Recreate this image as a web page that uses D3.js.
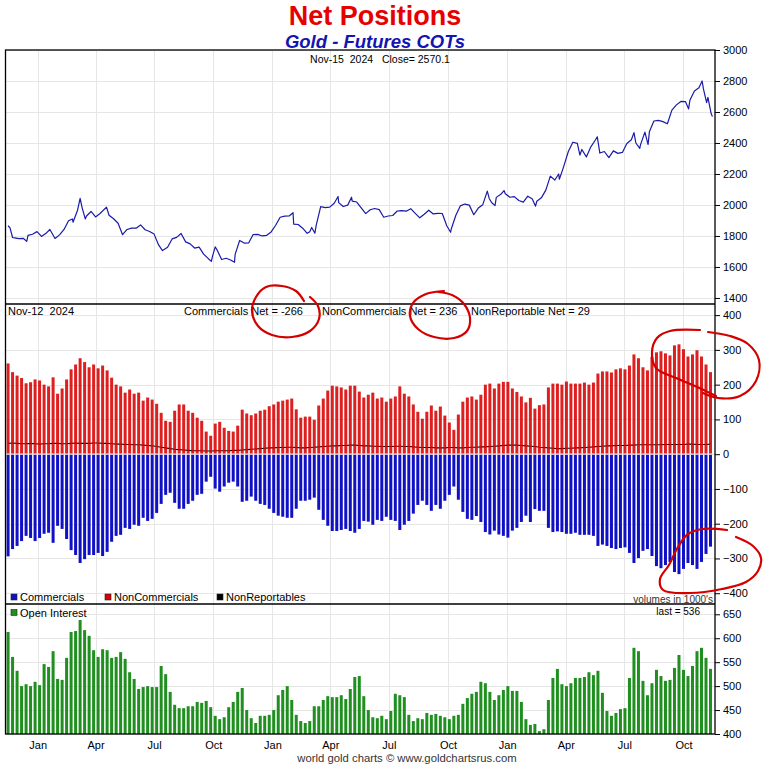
<!DOCTYPE html>
<html><head><meta charset="utf-8">
<script src="https://cdn.jsdelivr.net/npm/d3@7"></script>
<style>
html,body{margin:0;padding:0;background:#fff;}
svg{display:block;font-family:"Liberation Sans",Arial,Helvetica,sans-serif;}
text{white-space:pre;}
</style></head><body>
<svg id="c" width="763" height="768"></svg>
<script>
// ---------------- DATA ----------------
const goldClose = [
["2021-11-16",1866],["2021-11-19",1852],["2021-11-23",1790],["2021-11-26",1788],["2021-12-03",1783],["2021-12-10",1784],["2021-12-15",1765],["2021-12-17",1804],["2021-12-24",1811],["2021-12-31",1828],
["2022-01-07",1797],["2022-01-14",1817],["2022-01-20",1842],["2022-01-28",1784],["2022-02-04",1807],["2022-02-11",1842],["2022-02-18",1898],["2022-02-24",1910],["2022-02-25",1889],["2022-03-04",1966],
["2022-03-08",2043],["2022-03-11",1985],["2022-03-16",1910],["2022-03-18",1929],["2022-03-25",1958],["2022-04-01",1923],["2022-04-08",1945],["2022-04-18",1986],["2022-04-22",1934],["2022-04-29",1911],
["2022-05-06",1882],["2022-05-13",1808],["2022-05-20",1842],["2022-05-27",1851],["2022-06-03",1850],["2022-06-10",1871],["2022-06-17",1840],["2022-06-24",1829],["2022-07-01",1812],["2022-07-08",1742],
["2022-07-14",1706],["2022-07-22",1727],["2022-07-29",1781],["2022-08-05",1791],["2022-08-12",1816],["2022-08-19",1762],["2022-08-26",1749],["2022-09-02",1722],["2022-09-09",1728],["2022-09-16",1683],
["2022-09-23",1655],["2022-09-28",1636],["2022-09-30",1672],["2022-10-04",1730],["2022-10-07",1709],["2022-10-14",1648],["2022-10-21",1656],["2022-10-28",1645],["2022-11-03",1630],["2022-11-04",1681],
["2022-11-11",1771],["2022-11-18",1754],["2022-11-25",1755],["2022-12-02",1809],["2022-12-09",1810],["2022-12-16",1800],["2022-12-23",1804],["2022-12-30",1826],
["2023-01-06",1869],["2023-01-13",1921],["2023-01-20",1928],["2023-01-27",1929],["2023-02-02",1950],["2023-02-03",1877],["2023-02-10",1874],["2023-02-17",1850],["2023-02-24",1817],["2023-02-28",1828],
["2023-03-03",1855],["2023-03-08",1818],["2023-03-10",1868],["2023-03-17",1989],["2023-03-24",1983],["2023-03-31",1986],["2023-04-07",2011],["2023-04-13",2055],["2023-04-14",2015],["2023-04-21",1990],
["2023-04-28",1999],["2023-05-04",2050],["2023-05-05",2025],["2023-05-12",2019],["2023-05-19",1981],["2023-05-26",1944],["2023-06-02",1969],["2023-06-09",1977],["2023-06-16",1970],["2023-06-23",1921],
["2023-06-30",1929],["2023-07-07",1932],["2023-07-14",1961],["2023-07-21",1964],["2023-07-28",1960],["2023-08-04",1976],["2023-08-11",1946],["2023-08-18",1917],["2023-08-25",1940],["2023-09-01",1966],
["2023-09-08",1942],["2023-09-15",1946],["2023-09-22",1945],["2023-09-29",1866],["2023-10-05",1824],["2023-10-06",1845],["2023-10-13",1932],["2023-10-20",1994],["2023-10-27",2006],["2023-11-03",1999],
["2023-11-10",1937],["2023-11-17",1980],["2023-11-24",2002],["2023-12-01",2089],["2023-12-04",2042],["2023-12-08",2014],["2023-12-13",1996],["2023-12-15",2049],["2023-12-22",2069],["2023-12-27",2093],
["2023-12-29",2072],["2024-01-05",2050],["2024-01-12",2054],["2024-01-19",2029],["2024-01-26",2018],["2024-02-02",2057],["2024-02-09",2039],["2024-02-14",1992],["2024-02-16",2024],["2024-02-23",2046],
["2024-03-01",2096],["2024-03-08",2186],["2024-03-15",2161],["2024-03-21",2200],["2024-03-22",2166],["2024-03-28",2238],["2024-04-05",2345],["2024-04-12",2405],["2024-04-19",2398],["2024-04-23",2322],
["2024-04-26",2358],["2024-05-03",2310],["2024-05-10",2375],["2024-05-17",2419],["2024-05-20",2440],["2024-05-24",2335],["2024-05-31",2345],["2024-06-07",2306],["2024-06-14",2349],["2024-06-21",2333],
["2024-06-28",2339],["2024-07-05",2397],["2024-07-12",2421],["2024-07-16",2467],["2024-07-19",2400],["2024-07-25",2365],["2024-07-26",2386],["2024-08-02",2470],["2024-08-07",2390],["2024-08-09",2472],
["2024-08-16",2542],["2024-08-23",2546],["2024-08-30",2538],["2024-09-06",2524],["2024-09-13",2612],["2024-09-20",2646],["2024-09-27",2668],["2024-10-04",2667],["2024-10-09",2620],["2024-10-11",2676],
["2024-10-18",2736],["2024-10-25",2756],["2024-10-30",2800],["2024-11-01",2749],["2024-11-06",2660],["2024-11-08",2694],["2024-11-13",2590],["2024-11-15",2570.1]
];

// weekly COT report dates run Tuesday 2021-11-16 .. Tuesday 2024-11-12
const cotFirst = "2021-11-16", cotLast = "2024-11-12";

const nonCommercials = [
261,236,226,219,204,207,215,212,200,195, 221,174,189,215,244,258,276,265,250,258,
247,255,241,220,200,195,177,186,174,177, 154,163,157,145,119,96,93,125,143,143,
125,119,105,96,65,53,88,93,76,67, 65,82,128,117,112,117,125,128,138,143,
151,154,157,160,129,105,108,108,99,140, 160,183,197,195,192,186,197,197,180,163,
171,177,160,163,151,160,166,195,174,166, 143,122,102,122,140,125,137,111,91,70,
114,151,163,166,157,171,200,203,189,203, 208,208,189,179,166,149,162,131,141,143,
192,203,203,200,209,203,203,203,206,200, 206,232,238,238,235,244,247,244,255,287,
276,250,241,280,293,296,290,284,313,316, 302,281,287,299,281,258,236
];
const commercials = [
-294,-273,-264,-250,-235,-241,-250,-241,-229,-226, -255,-206,-215,-244,-276,-290,-313,-302,-290,-290,
-284,-293,-281,-252,-235,-232,-212,-215,-203,-206, -183,-192,-186,-169,-143,-117,-111,-140,-157,-157,
-143,-134,-117,-114,-79,-65,-99,-108,-93,-82, -79,-93,-137,-134,-122,-134,-143,-146,-157,-169,
-177,-180,-183,-183,-157,-134,-134,-131,-125,-160, -189,-206,-221,-221,-218,-215,-221,-226,-215,-192,
-194,-203,-189,-192,-180,-189,-192,-218,-203,-192, -171,-146,-134,-146,-163,-146,-157,-134,-117,-93,
-131,-166,-186,-189,-178,-195,-224,-231,-220,-231, -235,-240,-220,-212,-195,-177,-195,-158,-163,-163,
-212,-224,-222,-224,-229,-229,-226,-232,-232,-232, -235,-264,-260,-264,-270,-273,-270,-268,-284,-313,
-299,-278,-273,-293,-322,-328,-319,-310,-339,-345, -330,-313,-319,-330,-310,-287,-266
];
const nonReportables = [
31,32,31,30,30,31,30,29,30,30, 31,31,30,30,31,32,31,31,31,32,
32,31,31,30,29,29,28,28,27,27, 26,25,24,22,20,18,16,14,13,12,
11,10,10,10,9,9,10,10,10,10, 11,11,12,13,14,15,16,17,18,18,
19,19,20,20,19,18,18,19,20,21, 22,23,24,24,25,25,26,26,25,24,
24,23,23,22,22,22,23,23,22,22, 21,20,19,19,19,18,18,18,19,19,
18,18,19,20,20,21,21,22,23,24, 25,26,26,26,25,24,23,22,20,19,
18,17,16,16,17,17,18,18,19,20, 21,22,23,24,24,25,25,25,26,26,
27,27,27,27,27,27,28,28,28,28, 28,29,29,28,28,28,29
];
const openInterest = [
613,561,532,500,504,500,509,502,546,540, 573,515,513,559,613,615,638,617,605,575,
561,577,575,559,561,571,557,529,515,494, 498,500,498,498,542,525,488,461,454,454,
458,458,467,465,469,456,438,431,435,456, 467,488,496,450,433,423,438,438,440,450,
481,492,500,471,440,427,423,427,458,458, 471,479,477,477,481,473,494,519,521,479,
450,435,433,438,431,448,484,481,477,440, 427,433,431,444,440,442,438,435,431,438,
440,463,475,484,488,509,506,488,471,481, 492,500,490,490,467,431,419,421,406,410,
471,517,536,504,500,506,517,517,519,529, 523,532,486,448,438,444,452,454,517,580,
573,511,481,506,534,521,511,513,538,565, 534,521,542,573,580,559,536
];

const priceTicks = [1400,1600,1800,2000,2200,2400,2600,2800,3000];
const cotTicks = [-400,-300,-200,-100,0,100,200,300,400];
const oiTicks = [400,450,500,550,600,650];

const titleText = "Net Positions";
const subtitleText = "Gold - Futures COTs";
const priceHeader = "Nov-15  2024   Close= 2570.1";
const cotHeaderDate = "Nov-12  2024";
const netLabels = ["Commercials Net = -266","NonCommercials Net = 236","NonReportable Net = 29"];
const legendNames = ["Commercials","NonCommercials","NonReportables"];
const footerText = "world gold charts \u00a9 www.goldchartsrus.com";

// hand-drawn red annotation strokes (overlay, in page pixels)
const annotationStrokes = [
 [[304,301],[296,291],[282,286],[266,287],[256,297],[252,311],[258,326],[272,335],[292,337],[310,331],[319,319],[318,306],[310,297]],
 [[444,291],[426,294],[413,303],[410,316],[418,329],[434,337],[454,338],[467,331],[470,318],[464,304],[452,295],[438,292]],
 [[716,396],[695,386],[676,378],[656,368],[652,352],[657,338],[670,331],[700,330]],
 [[708,332],[730,336],[748,344],[759,360],[756,381],[740,396],[718,398],[703,393]],
 [[727,530],[703,529],[688,534],[678,547],[669,565],[660,579],[663,590],[690,593],[722,589],[746,582],[758,571],[761,558],[753,546],[736,537]]
];

// ---------------- LAYOUT ----------------
const W = 763, H = 768;
const L = 5.5, R = 715;
const pTop = 50, pBot = 304, cBot = 604, oBot = 734;
const parse = d3.timeParse("%Y-%m-%d");

const svg = d3.select("#c");
svg.append("rect").attr("width",W).attr("height",H).attr("fill","#fff");

const x = d3.scaleTime().domain([parse("2021-11-12"), parse("2024-11-19")]).range([L, R]);
const yP = d3.scaleLinear().domain([1361, 3000]).range([pBot, pTop]);
const yC = d3.scaleLinear().domain([-431, 432]).range([cBot, pBot]);
const yO = d3.scaleLinear().domain([400, 671.5]).range([oBot, cBot]);

const cotDates = d3.timeTuesday.range(parse(cotFirst), d3.timeDay.offset(parse(cotLast), 1));
const n = Math.min(cotDates.length, commercials.length, nonCommercials.length, nonReportables.length, openInterest.length);
const cot = d3.range(n).map(i => ({d: cotDates[i], c: commercials[i], nc: nonCommercials[i], nr: nonReportables[i], oi: openInterest[i]}));

const quarters = d3.timeMonth.every(3).range(x.domain()[0], x.domain()[1]);
const gridColor = "#e6e6e6";

// grids
const grid = svg.append("g");
grid.selectAll("line.v").data(quarters).join("line")
  .attr("x1", d => Math.round(x(d))+0.5).attr("x2", d => Math.round(x(d))+0.5)
  .attr("y1", pTop).attr("y2", oBot).attr("stroke", gridColor).attr("stroke-width",1);
function hgrid(ticks, sc){
  grid.selectAll(null).data(ticks).join("line")
   .attr("x1", L).attr("x2", R)
   .attr("y1", d => Math.round(sc(d))+0.5).attr("y2", d => Math.round(sc(d))+0.5)
   .attr("stroke", gridColor).attr("stroke-width",1);
}
hgrid(priceTicks, yP); hgrid(cotTicks, yC); hgrid(oiTicks, yO);

// price line
const priceLine = d3.line().x(d => x(parse(d[0]))).y(d => yP(d[1]));
svg.append("path").datum(goldClose).attr("d", priceLine)
  .attr("fill","none").attr("stroke","#1a1aa8").attr("stroke-width",1.2).attr("stroke-linejoin","round");

// COT bars
const bw = 3;
const y0 = yC(0);
// nonreportables line (drawn beneath translucent red bars)
svg.append("path").datum(cot)
  .attr("d", d3.line().x(d => x(d.d)).y(d => yC(d.nr)))
  .attr("fill","none").attr("stroke","#000").attr("stroke-width",1.1);
svg.append("g").selectAll("rect").data(cot).join("rect")
  .attr("x", d => x(d.d) - bw/2).attr("width", bw)
  .attr("y", d => yC(d.nc)).attr("height", d => y0 - yC(d.nc))
  .attr("fill","#d80000").attr("fill-opacity",0.88);
svg.append("g").selectAll("rect").data(cot).join("rect")
  .attr("x", d => x(d.d) - bw/2).attr("width", bw)
  .attr("y", y0).attr("height", d => yC(d.c) - y0)
  .attr("fill","#1010c4");
svg.append("line").attr("x1",L).attr("x2",R).attr("y1",y0).attr("y2",y0)
  .attr("stroke","#f2e4e4").attr("stroke-width",1.2);

// OI bars
svg.append("g").selectAll("rect").data(cot).join("rect")
  .attr("x", d => x(d.d) - bw/2).attr("width", bw)
  .attr("y", d => yO(d.oi)).attr("height", d => yO(400) - yO(d.oi))
  .attr("fill","#1f8f1f");

// frames
const frame = svg.append("g").attr("stroke","#000").attr("stroke-width",1.3).attr("fill","none");
frame.append("rect").attr("x",L).attr("y",pTop).attr("width",R-L).attr("height",oBot-pTop);
[pBot, cBot].forEach(yy => frame.append("line").attr("x1",L).attr("x2",R).attr("y1",yy).attr("y2",yy));

// right axes
function rightAxis(sc, ticks){
  const g = svg.append("g").attr("transform",`translate(${R},0)`)
    .call(d3.axisRight(sc).tickValues(ticks).tickSize(5).tickPadding(3).tickFormat(d3.format("d")));
  g.select(".domain").remove();
  g.selectAll("text").attr("font-size",11).attr("fill","#000").attr("font-family","Liberation Sans, Arial, sans-serif");
  g.selectAll("line").attr("stroke","#000");
}
rightAxis(yP, priceTicks); rightAxis(yC, cotTicks); rightAxis(yO, oiTicks);

// bottom axis
const xa = svg.append("g").attr("transform",`translate(0,${oBot})`)
  .call(d3.axisBottom(x).tickValues(quarters).tickSize(0).tickPadding(7).tickFormat(d3.timeFormat("%b")));
xa.select(".domain").remove();
xa.selectAll("text").attr("font-size",11).attr("fill","#000").attr("font-family","Liberation Sans, Arial, sans-serif");

// titles
svg.append("text").attr("x",375).attr("y",25).attr("text-anchor","middle")
  .attr("font-size",27).attr("font-weight","bold").attr("fill","#e60000").text(titleText);
svg.append("text").attr("x",375).attr("y",48).attr("text-anchor","middle")
  .attr("font-size",18.5).attr("font-weight","bold").attr("font-style","italic").attr("fill","#1414b0").text(subtitleText);
svg.append("text").attr("x",380).attr("y",62.5).attr("text-anchor","middle")
  .attr("font-size",10.5).attr("fill","#000").text(priceHeader);

// COT header
svg.append("text").attr("x",8).attr("y",315).attr("font-size",11).attr("fill","#000").text(cotHeaderDate);
const netX = [184, 322, 471];
netLabels.forEach((t,i) => svg.append("text").attr("x",netX[i]).attr("y",315).attr("font-size",11).attr("fill","#000").text(t));

// COT legend
const legColors = ["#1010c4","#d80000","#000"];
const legX = [11, 105, 217];
legendNames.forEach((t,i) => {
  svg.append("rect").attr("x",legX[i]).attr("y",594).attr("width",6).attr("height",6)
    .attr("fill",legColors[i]).attr("stroke","#222").attr("stroke-width",0.6);
  svg.append("text").attr("x",legX[i]+9).attr("y",601).attr("font-size",11).attr("fill","#000").text(t);
});
svg.append("text").attr("x",713).attr("y",603).attr("text-anchor","end").attr("font-size",10).attr("fill","#333").text("volumes in 1000's");

// OI legend
svg.append("rect").attr("x",11).attr("y",609.5).attr("width",6).attr("height",6)
  .attr("fill","#1f8f1f").attr("stroke","#222").attr("stroke-width",0.6);
svg.append("text").attr("x",20).attr("y",617).attr("font-size",11).attr("fill","#000").text("Open Interest");
svg.append("text").attr("x",700).attr("y",615).attr("text-anchor","end").attr("font-size",10).attr("fill","#000")
  .text("last = " + openInterest[openInterest.length-1]);

// footer
svg.append("text").attr("x",407).attr("y",762).attr("text-anchor","middle").attr("font-size",11.3).attr("fill","#333").text(footerText);

// annotations
const annLine = d3.line().curve(d3.curveCatmullRom.alpha(0.5));
svg.append("g").selectAll("path").data(annotationStrokes).join("path")
  .attr("d", d => annLine(d)).attr("fill","none").attr("stroke","#d40000")
  .attr("stroke-width",2.2).attr("stroke-linecap","round").attr("stroke-linejoin","round");
</script>
</body></html>
